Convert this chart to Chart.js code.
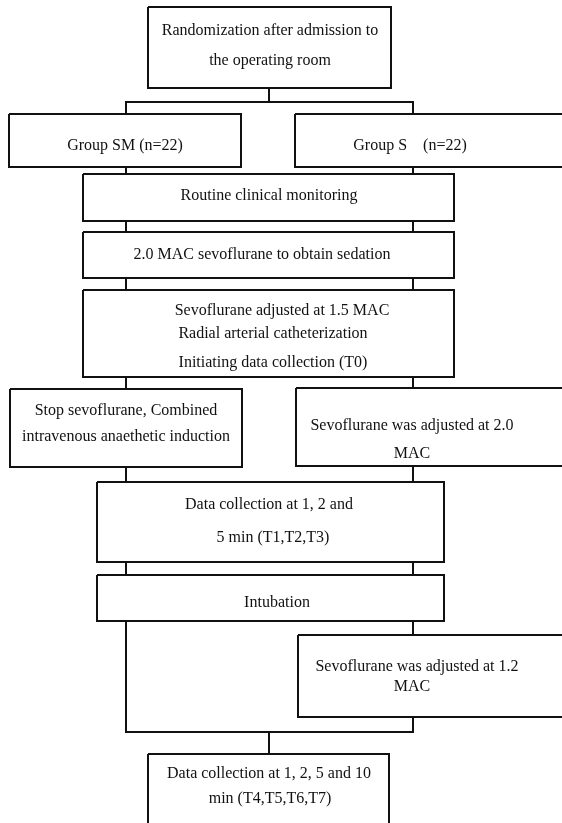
<!DOCTYPE html>
<html>
<head>
<meta charset="utf-8">
<script src="https://cdn.jsdelivr.net/npm/chart.js@4/dist/chart.umd.min.js"></script>
<style>
  html, body { margin: 0; padding: 0; background: #fff; }
  #wrap { width: 562px; height: 823px; position: relative; }
</style>
</head>
<body>
<div id="wrap"><canvas id="flow"></canvas></div>
<script>
// flowchart content (one entry per box)
var stepText = [
    ['Randomization after admission to', 'the operating room'],
    ['Group SM (n=22)'],
    ['Group S    (n=22)'],
    ['Routine clinical monitoring'],
    ['2.0 MAC sevoflurane to obtain sedation'],
    ['Sevoflurane adjusted at 1.5 MAC', 'Radial arterial catheterization', 'Initiating data collection (T0)'],
    ['Stop sevoflurane, Combined', 'intravenous anaethetic induction'],
    ['Sevoflurane was adjusted at 2.0', 'MAC'],
    ['Data collection at 1, 2 and', '5 min (T1,T2,T3)'],
    ['Intubation'],
    ['Sevoflurane was adjusted at 1.2', 'MAC'],
    ['Data collection at 1, 2, 5 and 10', 'min (T4,T5,T6,T7)']
];

// layout in page units: [x0, y0, x1, y1]
var boxRect = [
    [148, 7, 391, 88],
    [9, 114, 241, 167],
    [295, 114, 575, 167],
    [83, 174, 454, 221],
    [83, 232, 454, 278],
    [83, 290, 454, 377],
    [10, 389, 242, 467],
    [296, 388, 575, 466],
    [97, 482, 444, 562],
    [97, 575, 444, 621],
    [298, 635, 575, 717],
    [148, 754, 389, 840]
];
// text line anchors per box: [cx, cy] per line
var lineAt = [
    [[270, 31], [270, 61]],
    [[125, 146]],
    [[410, 146]],
    [[269, 196]],
    [[262, 255]],
    [[282, 311], [273, 334], [273, 363]],
    [[126, 411], [126, 437]],
    [[412, 426], [412, 454]],
    [[269, 505], [273, 538]],
    [[277, 603]],
    [[417, 667], [412, 687]],
    [[269, 774], [270, 799]]
];
// connector polylines
var links = [
    [[269, 88], [269, 102]],
    [[126, 114], [126, 102], [413, 102], [413, 114]],
    [[126, 167], [126, 174]], [[413, 167], [413, 174]],
    [[126, 221], [126, 232]], [[413, 221], [413, 232]],
    [[126, 278], [126, 290]], [[413, 278], [413, 290]],
    [[126, 377], [126, 389]], [[413, 377], [413, 388]],
    [[126, 467], [126, 482]], [[413, 466], [413, 482]],
    [[126, 562], [126, 575]], [[413, 562], [413, 575]],
    [[126, 621], [126, 732], [413, 732], [413, 717]],
    [[413, 621], [413, 635]],
    [[269, 732], [269, 754]]
];

var ink = '#111';

function pts(list) {
    return list.map(function (p) { return { x: p[0], y: p[1] }; });
}

var datasets = [];
boxRect.forEach(function (r) {
    datasets.push({
        data: pts([[r[0], r[1]], [r[2], r[1]], [r[2], r[3]], [r[0], r[3]], [r[0], r[1]]]),
        borderColor: ink, borderWidth: 2, showLine: true, pointRadius: 0,
        borderJoinStyle: 'miter', fill: false
    });
});
links.forEach(function (l) {
    datasets.push({
        data: pts(l),
        borderColor: ink, borderWidth: 2, showLine: true, pointRadius: 0,
        borderJoinStyle: 'miter', fill: false
    });
});

var boxLabels = {
    id: 'boxLabels',
    beforeDraw: function (chart) {
        var c = chart.ctx;
        c.save();
        c.fillStyle = '#fff';
        c.fillRect(0, 0, chart.width, chart.height);
        c.restore();
    },
    afterDatasetsDraw: function (chart) {
        var c = chart.ctx, sx = chart.scales.x, sy = chart.scales.y;
        c.save();
        c.fillStyle = ink;
        c.font = '16px "Liberation Serif", "Times New Roman", serif';
        c.textAlign = 'center';
        c.textBaseline = 'middle';
        stepText.forEach(function (lines, i) {
            lines.forEach(function (t, j) {
                var a = lineAt[i][j];
                c.fillText(t, sx.getPixelForValue(a[0]), sy.getPixelForValue(a[1]));
            });
        });
        c.restore();
    }
};

new Chart(document.getElementById('flow'), {
    type: 'scatter',
    data: { datasets: datasets },
    options: {
        responsive: true,
        maintainAspectRatio: false,
        animation: false,
        events: [],
        layout: { padding: 0 },
        plugins: { legend: { display: false }, tooltip: { enabled: false } },
        scales: {
            x: { type: 'linear', min: 0, max: 562, display: false },
            y: { type: 'linear', min: 0, max: 823, reverse: true, display: false }
        }
    },
    plugins: [boxLabels]
});
</script>
</body>
</html>
